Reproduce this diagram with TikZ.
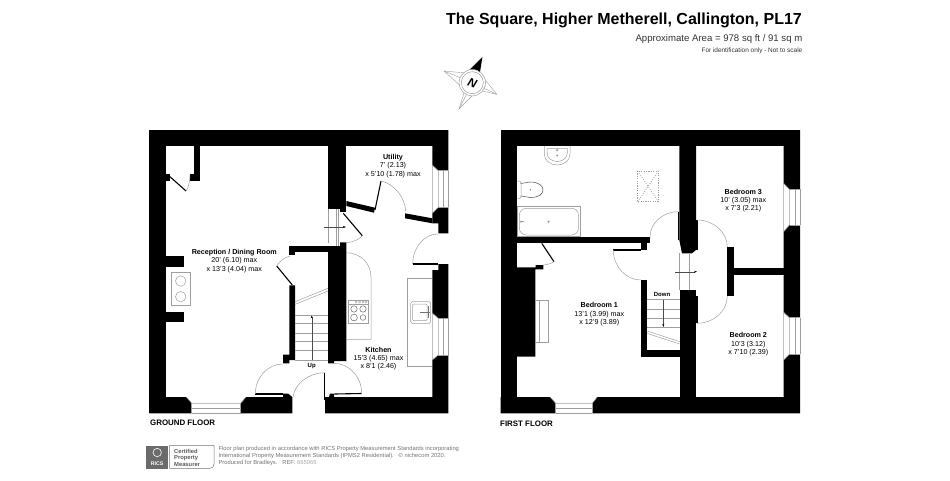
\documentclass[tikz,border=0pt]{standalone}
\usepackage{fontspec}
\setmainfont{Liberation Sans}
\usetikzlibrary{calc,arrows.meta}
\definecolor{fineline}{gray}{0.62}
\definecolor{txtgray}{gray}{0.45}
\tikzset{
  wall/.style={fill=black,draw=none},
  fine/.style={draw=fineline,line width=0.5pt},
  leaf/.style={draw=black,line width=1.1pt},
  swing/.style={draw=fineline,line width=0.5pt},
  roomtext/.style={align=center,inner sep=0pt,font=\fontsize{7.15}{8.3}\selectfont},
  floortext/.style={anchor=west,inner sep=0pt,font=\bfseries\fontsize{7.9}{9}\selectfont},
  stairtext/.style={inner sep=0pt,font=\bfseries\fontsize{6}{7}\selectfont},
  flow/.style={draw=black!70,line width=0.4pt,-{Stealth[length=3pt,width=2pt,black]}}
}
\newcommand{\qarc}[3]{(#1) .. controls ($(#1)!0.55!(#3)$) and ($(#2)!0.55!(#3)$) .. (#2)}
\begin{document}
\begin{tikzpicture}[x=1pt,y=-1pt]
\useasboundingbox (0,0) rectangle (950,480);
% ---------- GROUND FLOOR walls
\fill[wall] (149.3,129.7) rectangle (448.3,146);
\fill[wall] (149.3,129.7) rectangle (165.7,413.3);
\fill[wall] (149.3,397) -- (186.3,397) -- (191.7,403.3) -- (191.7,413.3) -- (149.3,413.3) -- cycle;
\fill[wall] (240.7,413.3) -- (240.7,403.3) -- (246,397) -- (283,397) -- (283,393.5) -- (288,393.5) -- (292.3,397) -- (292.3,413.3) -- cycle;
\fill[wall] (325,413.3) -- (325,397) -- (329,397) -- (330,393.5) -- (334,393.5) -- (334,397) -- (432.3,397) -- (432.3,360) -- (438.3,355) -- (448.3,355) -- (448.3,413.3) -- cycle;
\fill[wall] (432.3,130) -- (448.3,130) -- (448.3,170.7) -- (438.3,170.7) -- (432.3,165) -- cycle;
\fill[wall] (438.3,207.3) -- (448.3,207.3) -- (448.3,233.3) -- (438.3,233.3) -- (438.3,223.3) -- (432.3,223.3) -- (432.3,213.3) -- cycle;
\fill[wall] (438.3,264) -- (448.3,264) -- (448.3,318.3) -- (438.3,318.3) -- (432.3,313) -- (432.3,270) -- (438.3,270) -- cycle;
\fill[wall] (328,146) rectangle (346.3,209);
\fill[wall] (340,209) rectangle (346.3,212);
\fill[wall] (340,242.3) -- (346.3,242.3) -- (346.3,361) -- (334,361) -- (334,363.3) -- (328,363.3) -- (328,246) -- (340,246) -- cycle;
\fill[wall] (289.3,245.7) rectangle (328,251.7);
\fill[wall] (289.3,245.7) rectangle (295,255);
\fill[wall] (289.3,285.3) -- (295,285.3) -- (295,360) -- (289.3,360) -- (289.3,363.3) -- (283,363.3) -- (283,354.7) -- (289.3,354.7) -- cycle;
\fill[wall] (194.3,146) rectangle (200.3,181);
\fill[wall] (190,174.3) rectangle (200.3,181);
\fill[wall] (165.7,174.3) rectangle (170,181);
\fill[wall] (165.7,256) rectangle (184.3,266.7);
\fill[wall] (165.7,311.7) rectangle (184.3,322);
% utility partition
\fill[wall] (346.3,201) -- (375,207.7) -- (374,212.7) -- (346.3,206) -- cycle;
\fill[wall] (405,213.3) -- (432.3,218.3) -- (432.3,223.3) -- (405,218.3) -- cycle;
% ---------- GROUND FLOOR doors
\draw[leaf] (170,176.7) -- (186,191);
\draw[swing] \qarc{186,191}{190,175}{190,186};
\draw[leaf] (276.7,266) -- (292.3,285);
\draw[swing] \qarc{276.7,266}{290,256}{281,258};
\draw[leaf] (255.3,394) -- (283,394);
\draw[swing] \qarc{255.3,394}{282.7,364}{255.3,364};
\draw[leaf] (324.7,372.7) -- (324.7,400);
\draw[swing] \qarc{324.7,372.7}{293,397}{296,372.7};
\draw[leaf] (334.3,394) -- (361.7,393.5);
\draw[swing] \qarc{361.7,393.5}{334,363.3}{361.7,363.3};
\draw[leaf] (343.3,213.3) -- (362.3,235.7);
\draw[swing] \qarc{362.3,235.7}{346.7,242.7}{358,242};
\draw[leaf] (381,181) -- (375,210);
\draw[swing] \qarc{381,181}{405.7,211.7}{405,186};
\draw[leaf] (412.7,264) -- (438.3,264);
\draw[swing] \qarc{412.7,264}{438,234}{412.7,234};
% ---------- GROUND FLOOR fine details
\draw[fine] (328,209) -- (328,243) (336,209) -- (336,246) (338.5,209) -- (338.5,246);
\coordinate (gfa) at (324,227); \coordinate (gfb) at (346,227);
\draw[flow] (gfa) -- (gfb);
% windows
\draw[fine] (186.3,397) -- (191.7,403.3) -- (240.7,403.3) -- (246,397);
\draw[fine] (191.7,403.3) -- (191.7,413.3) (240.7,403.3) -- (240.7,413.3) (191.7,408.3) -- (240.7,408.3) (191.7,413.3) -- (240.7,413.3);
\draw[fine] (432.3,165) -- (438.3,170.7) -- (438.3,207.3) -- (432.3,213.3) -- cycle;
\draw[fine] (443.3,170.7) -- (443.3,207.3) (448.3,170.7) -- (448.3,207.3) (438.3,170.7) -- (448.3,170.7) (438.3,207.3) -- (448.3,207.3);
\draw[fine] (432.3,313) -- (438.3,318.3) -- (438.3,355) -- (432.3,360) -- cycle;
\draw[fine] (443.3,318.3) -- (443.3,355) (448.3,318.3) -- (448.3,355) (438.3,318.3) -- (448.3,318.3) (438.3,355) -- (448.3,355);
% living-room stove
\draw[fine] (171.7,272.7) rectangle (190.7,305.3);
\draw[fine] (180.7,281) circle[radius=5.2] (180.7,296.7) circle[radius=5.2];
% kitchen counters
\draw[fine] (346.3,252.7) .. controls (360,252.7) and (371,263) .. (371,277) -- (371,339.3) -- (346.3,339.3);
\draw[fine] (348.3,300) rectangle (368.3,323.3);
\draw[fine] (348.3,304) -- (368.3,304);
\foreach \kx in {356,359.5,363,366}{\draw[fine,line width=0.3pt] (\kx,302) circle[radius=1.1];}
\draw[draw=black!60,line width=0.5pt] (354,309) circle[radius=3.2] (363,309) circle[radius=3.2] (354,317.5) circle[radius=3.4] (363,317.5) circle[radius=2.8];
\draw[fine] (432.3,278.7) -- (407.3,278.7) -- (407.3,366) -- (432.3,366);
\draw[fine,rounded corners=1.5pt] (410.7,301.7) rectangle (430.7,323.3);
\draw[fine,rounded corners=1pt] (412.5,304) rectangle (427,320.5);
\draw[draw=black!55,line width=0.4pt] (419.5,312.3) -- (430,312.3) (428.3,306) -- (428.3,318);
% stairs
\foreach \ty in {315,323.3,333.3,341.7,350.7,360}{\draw[fine] (295,\ty) -- (328,\ty);}
\draw[fine] (295,301.7) -- (328,288.3) (295,304.4) -- (328,291);
\coordinate (gsa) at (311.7,360); \coordinate (gsb) at (311.7,315.5);
\draw[flow] (gsa) -- (gsb);
% ---------- FIRST FLOOR walls
\fill[wall] (500.7,129.7) rectangle (800,146);
\fill[wall] (500.7,129.7) rectangle (517,413.3);
\fill[wall] (500.7,397) -- (550,397) -- (555.7,403.3) -- (555.7,413.3) -- (500.7,413.3) -- cycle;
\fill[wall] (592.3,413.3) -- (592.3,403.3) -- (597.3,397) -- (800,397) -- (800,413.3) -- cycle;
\fill[wall] (783.7,130) -- (800,130) -- (800,189.3) -- (789.3,189.3) -- (783.7,183.3) -- cycle;
\fill[wall] (789.3,225) -- (800,225) -- (800,317.7) -- (789.3,317.7) -- (783.7,312.3) -- (783.7,231.7) -- cycle;
\fill[wall] (789.3,354.3) -- (800,354.3) -- (800,397) -- (783.7,397) -- (783.7,360) -- cycle;
\fill[wall] (517,237.3) rectangle (650,243.3);
\fill[wall] (641,243) rectangle (647.3,250);
\fill[wall] (517,267.3) -- (535.7,267.3) -- (535.7,265) -- (543.3,265) -- (543.3,269.3) -- (535.3,269.3) -- (535.3,356.7) -- (517,356.7) -- cycle;
\fill[wall] (679.3,146) -- (696,146) -- (696,250) -- (692,253.3) -- (682,253.3) -- (679.3,240) -- cycle;
\fill[wall] (679.7,290) rectangle (696,397);
\fill[wall] (727.3,247.3) rectangle (734.3,296);
\fill[wall] (734.3,268.3) rectangle (783.7,275);
\fill[wall] (640.7,280) rectangle (646.7,356.7);
\fill[wall] (640.7,350) rectangle (680,356.7);
% ---------- FIRST FLOOR doors
\draw[leaf] (541.7,243.3) -- (554,261.7);
\draw[swing] \qarc{554,261.7}{543,265}{549,265};
\draw[leaf] (613.3,250) -- (641,250);
\draw[swing] \qarc{613.3,250}{641,280}{613.3,280};
\draw[leaf] (678.3,211.7) -- (678.3,240);
\draw[swing] \qarc{678.3,211.7}{650,237}{650,211.7};
\draw[leaf] (697,220) -- (697,250);
\draw[swing] \qarc{697,220}{727.3,247}{727.3,220};
\draw[leaf] (697,296) -- (697,323.3);
\draw[swing] \qarc{697,323.3}{727.3,296}{727.3,323.3};
% ---------- FIRST FLOOR fine details
\draw[fine] (679.3,253.3) -- (679.3,290) (689,253.3) -- (689,290);
\coordinate (ffa) at (675,271.7); \coordinate (ffb) at (697,271.7);
\draw[flow] (ffa) -- (ffb);
% windows
\draw[fine] (550,397) -- (555.7,403.3) -- (592.3,403.3) -- (597.3,397);
\draw[fine] (555.7,403.3) -- (555.7,413.3) (592.3,403.3) -- (592.3,413.3) (555.7,408.3) -- (592.3,408.3) (555.7,413.3) -- (592.3,413.3);
\draw[fine] (783.7,183.3) -- (789.5,189.3) -- (789.5,225) -- (783.7,231.7) -- cycle;
\draw[fine] (795,189.3) -- (795,225) (800,189.3) -- (800,225) (789.5,189.3) -- (800,189.3) (789.5,225) -- (800,225);
\draw[fine] (783.7,312.3) -- (789.5,317.7) -- (789.5,354.3) -- (783.7,360) -- cycle;
\draw[fine] (795,317.7) -- (795,354.3) (800,317.7) -- (800,354.3) (789.5,317.7) -- (800,317.7) (789.5,354.3) -- (800,354.3);
% sanitary
\draw[fine] (544.3,146) -- (544.3,154) .. controls (544.3,161) and (551,165) .. (557.2,165) .. controls (563.5,165) and (570,161) .. (570,154) -- (570,146);
\draw[fine] (547,148.5) -- (547,153) .. controls (547,158) and (552,161.5) .. (557.2,161.5) .. controls (562.5,161.5) and (567.3,158) .. (567.3,153) -- (567.3,148.5) -- cycle;
\draw[fine] (557.2,150) circle[radius=1] (557.2,155.5) circle[radius=0.8];
\draw[fine] (517.3,181) -- (520,181) -- (521,184) -- (521,196) -- (520,198.3) -- (517.3,198.3);
\draw[draw=black!65,line width=0.55pt] (521,183.5) -- (530,182) .. controls (539,182) and (543,186) .. (543,190) .. controls (543,194) and (539,197.5) .. (530,197.5) -- (521,196);
\fill[black!50] (530.3,189.8) circle[radius=0.8];
\draw[fine] (517.3,206) rectangle (580.7,236.7);
\draw[fine,rounded corners=7pt] (519.3,208.3) -- (578.5,208.3) -- (578.5,235) -- (519.3,235) -- cycle;
\fill[fineline] (548.5,221.7) circle[radius=1.2] (521,221.7) circle[radius=1.2];
\draw[fine] (521,221.7) -- (524,221.7);
% skylight
\draw[fine,dash pattern=on 1.2pt off 1.2pt] (637.7,171) rectangle (658.5,201.7);
\draw[fine,dash pattern=on 1.2pt off 1.2pt] (637.7,171) -- (658.5,201.7) (658.5,171) -- (637.7,201.7);
% fireplace
\draw[fine] (535.3,300) rectangle (548,342.7);
\draw[fine] (539,300) -- (539,342.7);
% stairs down
\foreach \ty in {299.7,309,318.3,327.7}{\draw[fine] (646.7,\ty) -- (679.7,\ty);}
\draw[fine] (647.3,331) -- (679.7,341.7) (647.3,333.5) -- (679.7,344);
\coordinate (fsa) at (663.3,299.7); \coordinate (fsb) at (663.3,327);
\draw[flow] (fsa) -- (fsb);
% ---------- texts
\node[roomtext] (recep) at (234.3,261) {\textbf{Reception / Dining Room}\\20' (6.10) max\\x 13'3 (4.04) max};
\node[roomtext] (util) at (393,166) {\textbf{Utility}\\7' (2.13)\\x 5'10 (1.78) max};
\node[roomtext] (kitch) at (378.5,358.8) {\textbf{Kitchen}\\15'3 (4.65) max\\x 8'1 (2.46)};
\node[roomtext] (bedone) at (599.3,314.4) {\textbf{Bedroom 1}\\13'1 (3.99) max\\x 12'9 (3.89)};
\node[roomtext] (bedtwo) at (748.3,344.2) {\textbf{Bedroom 2}\\10'3 (3.12)\\x 7'10 (2.39)};
\node[roomtext] (bedthree) at (743.3,200.5) {\textbf{Bedroom 3}\\10' (3.05) max\\x 7'3 (2.21)};
\node[stairtext] (up) at (311.7,366) {Up};
\node[stairtext] (down) at (662,294.5) {Down};
\node[floortext] (gfl) at (150,422.3) {GROUND FLOOR};
\node[floortext] (ffl) at (500,423.7) {FIRST FLOOR};
\node[anchor=east,inner sep=0pt,font=\bfseries\fontsize{16}{18}\selectfont] (title) at (802,20) {The Square, Higher Metherell, Callington, PL17};
\node[anchor=east,inner sep=0pt,font=\fontsize{9.6}{11}\selectfont,text=black!80] (area) at (802.5,38.7) {Approximate Area = 978 sq ft / 91 sq m};
\node[anchor=east,inner sep=0pt,font=\fontsize{6.45}{7}\selectfont,text=black!80] (ident) at (802.5,50.5) {For identification only - Not to scale};
% ---------- compass
\coordinate (cc) at (472.3,82.7);
\draw[fine,line width=0.4pt,fill=white] (444,71) -- (466,73) -- (482.3,57.3) -- (479,72) -- (496.7,94.3) -- (478,90) -- (459,109) -- (465,90) -- cycle;
\draw[fine,line width=0.4pt] (444,71) -- (cc) -- (496.7,94.3) (459,109) -- (cc);
\fill[black] (482.3,57.3) -- (468.5,71) -- (480,72.2) -- cycle;
\draw[fine,fill=white] (cc) circle[radius=13.2];
\draw[fine] (cc) circle[radius=11];
\node[inner sep=0pt,rotate=-20,font=\bfseries\itshape\fontsize{12}{13}\selectfont] (north) at (cc) {N};
% ---------- RICS
\fill[black!58] (146,445.7) rectangle (168.3,469);
\draw[white,line width=0.6pt] (157.2,452.5) circle[radius=4.2];
\node[inner sep=0pt,text=white,font=\bfseries\fontsize{5.2}{6}\selectfont] (rics) at (157.2,463.5) {RICS};
\draw[black!55,line width=0.5pt] (169.5,445.3) -- (214,445.3) -- (214,464) .. controls (214,466.5) and (212.5,468.3) .. (210,468.3) -- (169.5,468.3) -- cycle;
\node[anchor=west,align=left,inner sep=0pt,text=black!65,font=\bfseries\fontsize{5.8}{6.5}\selectfont] (cert) at (174,457.5) {Certified\\Property\\Measurer};
\node[anchor=west,align=left,inner sep=0pt,text=txtgray,font=\fontsize{5.8}{6.8}\selectfont] (legal) at (218.3,456.2) {Floor plan produced in accordance with RICS Property Measurement Standards incorporating\\International Property Measurement Standards (IPMS2 Residential).\ \ \ © nichecom 2020.\\Produced for Bradleys.\ \ \ REF:\ \textcolor{black!35}{665065}};
\end{tikzpicture}
\end{document}
